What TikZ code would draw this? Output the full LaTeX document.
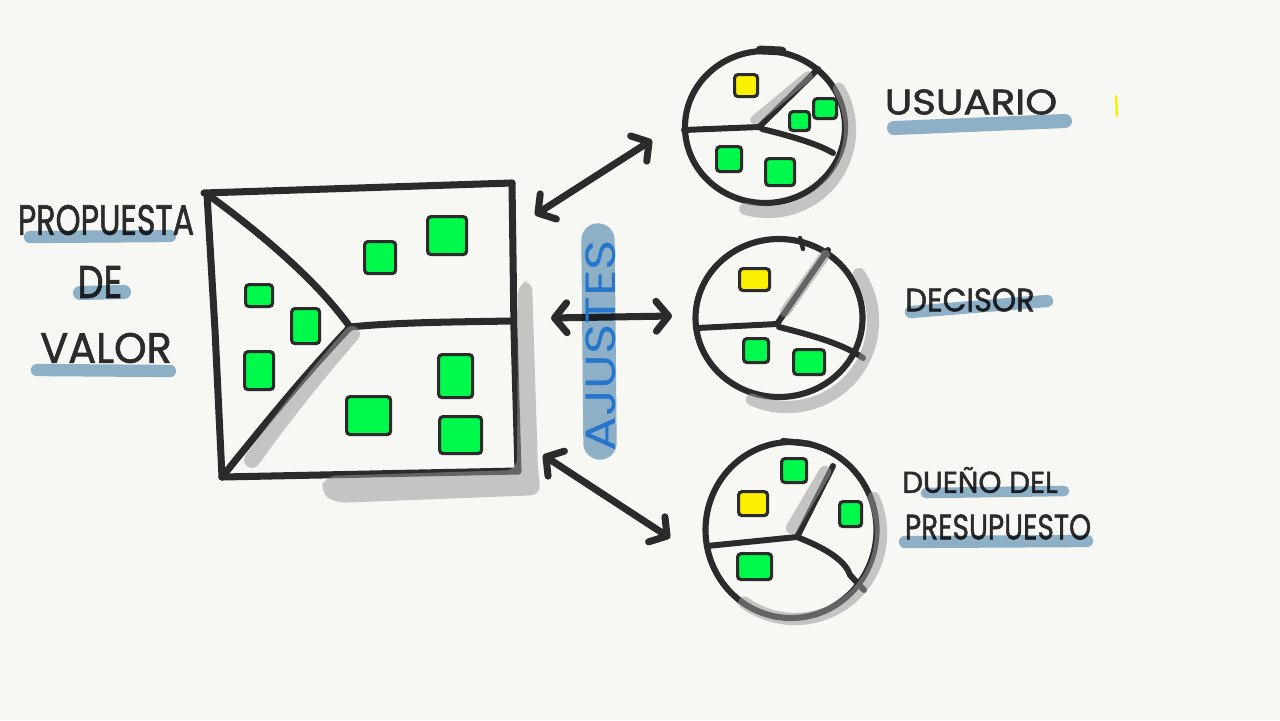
\documentclass[tikz,border=0pt]{standalone}
\usepackage{fontspec}
\setmainfont{Poppins}
\newfontfamily\handfont[FakeBold=1.6]{Poppins}
\usetikzlibrary{arrows.meta,calc,shapes.geometric}
\definecolor{bgc}{RGB}{247,247,243}
\definecolor{ink}{RGB}{43,43,43}
\definecolor{grn}{RGB}{0,250,76}
\definecolor{yel}{RGB}{250,240,0}
\definecolor{shd}{RGB}{151,151,151}
\definecolor{hl}{RGB}{147,182,208}
\definecolor{blu}{RGB}{38,118,204}
\newdimen\pxu \pxu=0.5669pt
\newcommand{\hand}[3]{\resizebox{#1\pxu}{#2\pxu}{\handfont #3}}
\begin{document}
\begin{tikzpicture}[x=0.02cm,y=-0.02cm,
  inkline/.style={draw=ink, line width=4pt, line cap=round, line join=round},
  ringline/.style={draw=ink, line width=3.5pt, ellipse, inner sep=0pt},
  shadowline/.style={draw=shd, draw opacity=0.53, line width=7pt, line cap=round},
  band/.style={draw=hl, line cap=round},
  sticky/.style={draw=ink, line width=1.8pt, rounded corners=2pt, inner sep=0pt, anchor=north west},
  lbl/.style={text=ink, inner sep=0pt},
  dblarrow/.style={inkline, {Straight Barb[length=7pt,width=17pt,round]}-{Straight Barb[length=7pt,width=17pt,round]}}
]
\fill[bgc] (0,0) rectangle (1280,720);
\useasboundingbox (0,0) rectangle (1280,720);

% ---------- left labels ----------
\node[lbl] (propuesta) at (106,220) {\hand{177}{30}{PROPUESTA}};
\node[lbl] (de) at (100,282) {\hand{45}{32}{DE}};
\node[lbl] (valor) at (106,348) {\hand{132}{30}{VALOR}};

% ---------- right labels ----------
\node[lbl] (usuario) at (971,102) {\hand{173}{25}{USUARIO}};
\node[lbl] (decisor) at (970,300) {\hand{130}{23}{DECISOR}};
\node[lbl] (dueno) at (980,480) {\hand{156}{26}{DUEÑO DEL}};
\node[lbl] (presup) at (998,527) {\hand{187}{25}{PRESUPUESTO}};

% ---------- square: value proposition ----------
\coordinate (tl) at (207,194);
\coordinate (tr) at (512,183);
\coordinate (br) at (518,471);
\coordinate (bl) at (222,477);
\coordinate (mid) at (350,327);
\coordinate (mr) at (510,321);

\node[sticky, fill=grn, minimum width=27*0.02cm, minimum height=22*0.02cm] (s1) at (244,283) {};
\node[sticky, fill=grn, minimum width=28*0.02cm, minimum height=35*0.02cm] (s2) at (290,307) {};
\node[sticky, fill=grn, minimum width=29*0.02cm, minimum height=38*0.02cm] (s3) at (243,350) {};
\node[sticky, fill=grn, minimum width=31*0.02cm, minimum height=32*0.02cm] (s4) at (363,240) {};
\node[sticky, fill=grn, minimum width=39*0.02cm, minimum height=38*0.02cm] (s5) at (426,215) {};
\node[sticky, fill=grn, minimum width=44*0.02cm, minimum height=38*0.02cm] (s6) at (345,395) {};
\node[sticky, fill=grn, minimum width=34*0.02cm, minimum height=43*0.02cm] (s7) at (437,353) {};
\node[sticky, fill=grn, minimum width=42*0.02cm, minimum height=37*0.02cm] (s8) at (438,415) {};

\draw[inkline] (204,193) -- (tr);
\draw[inkline] (tr) -- (514,330) -- (br);
\draw[inkline] (bl) -- (br);
\draw[inkline] (tl) -- (215,330) -- (bl);
\draw[inkline] (tl) .. controls (270,240) and (320,285) .. (mid);
\draw[inkline] (mid) .. controls (400,322) and (460,322) .. (mr);
\draw[inkline] (mid) .. controls (300,380) and (260,430) .. (bl);

% square shadows
\fill[shd, fill opacity=0.53, rounded corners=6pt]
  (518,283) -- (532,280) -- (538,470) -- (541,495) -- (335,503) -- (320,492) -- (325,476) -- (517,470) -- cycle;
\draw[shadowline, line width=9pt] (352,334) .. controls (312,380) and (277,425) .. (252,460);

% ---------- circles ----------
\node[ringline, minimum width=160*0.02cm, minimum height=152*0.02cm] (cu) at (765,127) {};
\node[ringline, minimum width=167*0.02cm, minimum height=158*0.02cm] (cd) at (779,318) {};
\node[ringline, minimum width=171*0.02cm, minimum height=176*0.02cm] (cp) at (791,530) {};

% top marks
\draw[inkline, line width=5pt] (760,50) -- (782,51);
\draw[inkline, line width=2.5pt] (800,238) -- (803,249);
\draw[inkline, line width=3.5pt] (783,441) -- (810,444);

% usuario pie
\coordinate (pu) at (759,127);
\draw[inkline, line width=3.4pt] (pu) -- (684,130);
\draw[inkline, line width=3.4pt] (pu) -- (818,69);
\draw[inkline, line width=3.4pt] (762,129) .. controls (795,137) and (820,145) .. (833,153);
\node[sticky, fill=yel, minimum width=23*0.02cm, minimum height=22*0.02cm] (u1) at (733,73) {};
\node[sticky, fill=grn, minimum width=20*0.02cm, minimum height=19*0.02cm] (u2) at (788,110) {};
\node[sticky, fill=grn, minimum width=23*0.02cm, minimum height=20*0.02cm] (u3) at (812,97) {};
\node[sticky, fill=grn, minimum width=25*0.02cm, minimum height=25*0.02cm] (u4) at (715,145) {};
\node[sticky, fill=grn, minimum width=29*0.02cm, minimum height=27*0.02cm] (u5) at (764,157) {};
\draw[shadowline, line width=5.5pt] (755,120) -- (808,76);
\draw[shadowline] (768,130) ++(-30:82) arc[start angle=-30, end angle=106, radius=82];

% decisor pie
\coordinate (pd) at (777,324);
\draw[inkline, line width=3.4pt] (pd) -- (697,328);
\draw[inkline, line width=3.4pt] (pd) -- (828,250);
\draw[inkline, line width=3.4pt] (779,327) .. controls (815,336) and (845,345) .. (863,358);
\node[sticky, fill=yel, minimum width=30*0.02cm, minimum height=22*0.02cm] (d1) at (738,267) {};
\node[sticky, fill=grn, minimum width=25*0.02cm, minimum height=24*0.02cm] (d2) at (742,337) {};
\node[sticky, fill=grn, minimum width=31*0.02cm, minimum height=25*0.02cm] (d3) at (792,348) {};
\draw[shadowline, line width=6pt] (785,312) -- (825,255);
\draw[shadowline] (787,321) ++(-33:86) arc[start angle=-33, end angle=114, radius=86];

% dueno pie
\coordinate (pp) at (797,537);
\draw[inkline, line width=3.4pt] (pp) -- (707,546);
\draw[inkline, line width=3.4pt] (pp) -- (833,466);
\draw[inkline, line width=3.4pt] (pp) .. controls (825,548) and (845,560) .. (850,575) -- (864,590);
\node[sticky, fill=grn, minimum width=25*0.02cm, minimum height=24*0.02cm] (p1) at (780,457) {};
\node[sticky, fill=yel, minimum width=29*0.02cm, minimum height=24*0.02cm] (p2) at (737,490) {};
\node[sticky, fill=grn, minimum width=22*0.02cm, minimum height=25*0.02cm] (p3) at (838,500) {};
\node[sticky, fill=grn, minimum width=34*0.02cm, minimum height=26*0.02cm] (p4) at (736,552) {};
\draw[shadowline, line width=7pt] (792,528) -- (825,472);
\draw[shadowline] (795,533) ++(-24:86) arc[start angle=-24, end angle=126, radius=86];

% ---------- arrows ----------
\coordinate (a1s) at (535,215);
\coordinate (a1e) at (652,140);
\coordinate (a2s) at (551,318);
\coordinate (a2e) at (672,316);
\coordinate (a3s) at (543,455);
\coordinate (a3e) at (670,538);
\draw[dblarrow] (a1s) -- (a1e);
\draw[dblarrow] (a2s) -- (a2e);
\draw[dblarrow] (a3s) -- (a3e);

% ---------- highlight bands ----------
\begin{scope}[blend mode=multiply]
\draw[band, line width=7pt] (30,237) -- (170,236);
\draw[band, line width=8pt] (80,293) -- (124,292);
\draw[band, line width=7pt] (37,370) -- (170,371);
\draw[band, line width=8pt] (894,128) -- (1065,121);
\draw[band, line width=7pt] (911,312) -- (1047,301);
\draw[band, line width=6pt] (926,493) -- (1064,491);
\draw[band, line width=7pt] (905,542) -- (1087,541);
\draw[band, line width=19pt] (598,240) -- (600,443);
\end{scope}

\node[text=blu, inner sep=0pt, rotate=90] (ajustes) at (601,346) {\resizebox{212\pxu}{30\pxu}{AJUSTES}};

% stray yellow mark
\draw[yel, line width=1.3pt, line cap=round] (1116,96) -- (1117,116);
\end{tikzpicture}
\end{document}
